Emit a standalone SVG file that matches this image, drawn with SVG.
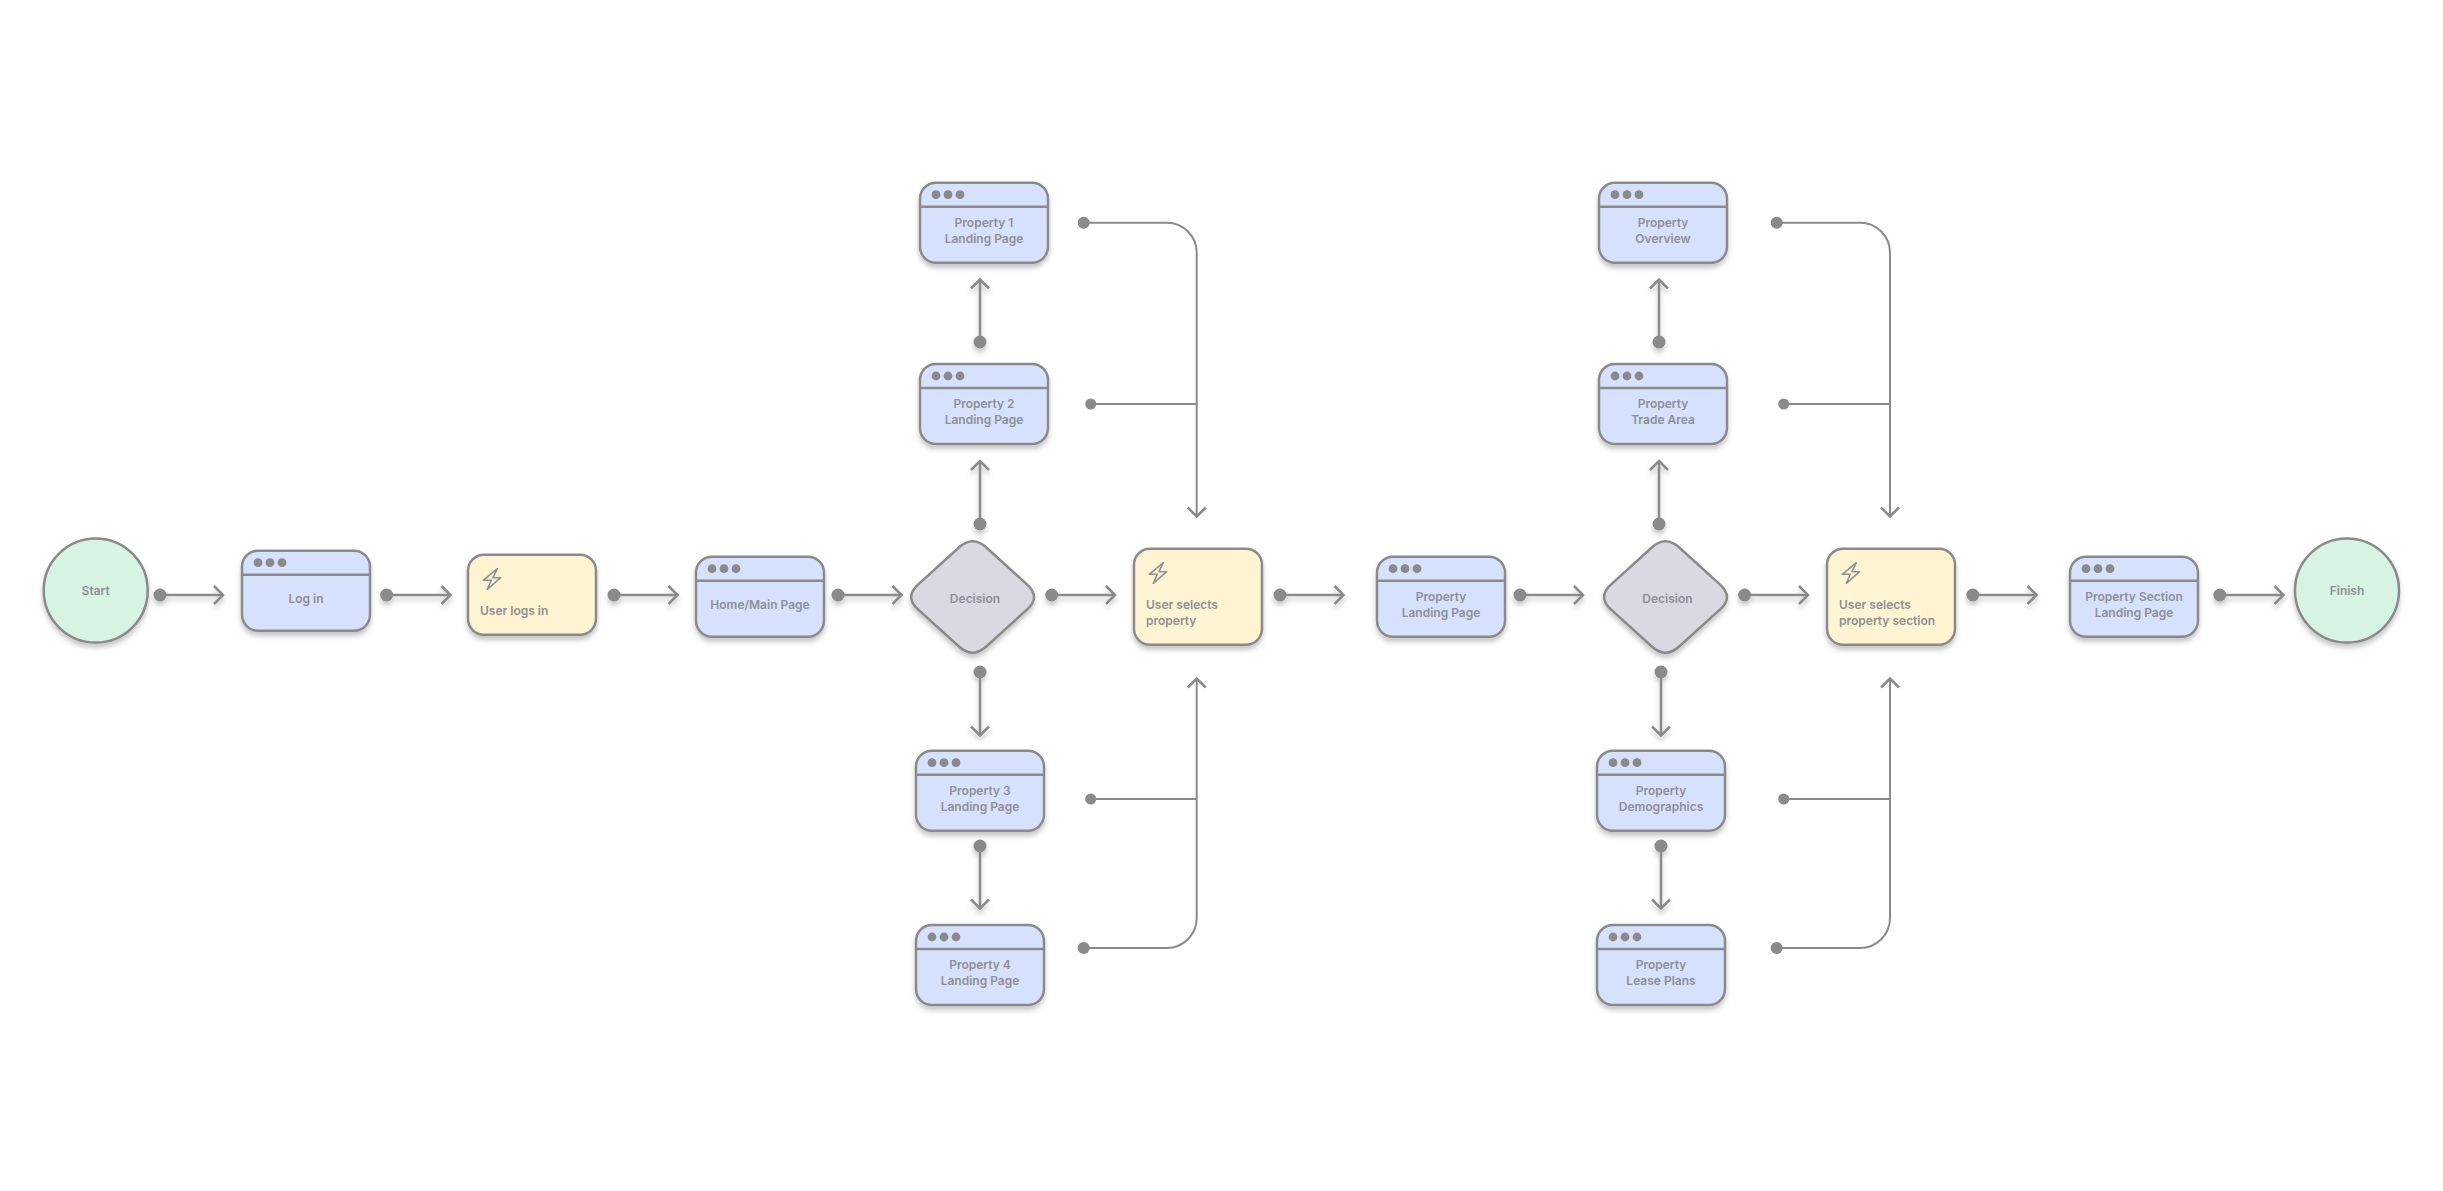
<svg xmlns="http://www.w3.org/2000/svg" width="2443" height="1191" viewBox="0 0 2443 1191">
<style>
text{font-family:"Inter","Liberation Sans",sans-serif;font-size:12px;font-weight:600;fill:#8f8f96}
.c{text-anchor:middle}
.shape{stroke:#8a8a8a;stroke-width:2.5}
.browser{fill:#d6e2fd}
.action{fill:#fff4d2}
.term{fill:#d6f3e4}
.dec{fill:#d8d9e1}
.hdr{stroke:#8a8a8a;stroke-width:2.5}
.d{fill:#8a8a8a}
.bolt{fill:none;stroke:#8f8f96;stroke-width:1.6;stroke-linejoin:round}
.short path{fill:none;stroke:#8a8a8a;stroke-width:2.5;marker-end:url(#ah)}
.long path{fill:none;stroke:#8a8a8a;stroke-width:2}
.long path.a{marker-end:url(#ah)}
.node{filter:url(#sh)}
</style>
<defs>
<filter id="sh" filterUnits="userSpaceOnUse" x="-300" y="-300" width="3100" height="1800"><feDropShadow dx="0" dy="4" stdDeviation="2.5" flood-color="#000" flood-opacity="0.22"/></filter>
<marker id="ah" markerUnits="userSpaceOnUse" markerWidth="24" markerHeight="24" viewBox="0 0 24 24" refX="13" refY="12" orient="auto"><path d="M4 3L13 12L4 21" fill="none" stroke="#8a8a8a" stroke-width="2.5"/></marker>
<g id="win"><rect class="shape browser" width="128" height="80" rx="16"/><line class="hdr" x1="0" y1="24" x2="128" y2="24"/><circle class="d" cx="16" cy="12" r="4.4"/><circle class="d" cx="28" cy="12" r="4.4"/><circle class="d" cx="40" cy="12" r="4.4"/></g>
<polygon id="zap" class="bolt" points="29.3,14 15.3,25.6 23.3,25.6 19.3,34.6 32.7,23 25,23"/>
<path id="dia" class="shape dec" d="M-13.7-49.5Q0-61.9 13.7-49.5L54.6-12.4Q68.3 0 54.6 12.4L13.7 49.5Q0 61.9-13.7 49.5L-54.6 12.4Q-68.3 0-54.6-12.4Z"/>
</defs>

<g id="connectors">
<g class="short" filter="url(#sh)">
<path d="M160 595H223"/><circle class="d" cx="160" cy="595" r="6.5"/>
<path d="M386.6 595H450.5"/><circle class="d" cx="386.6" cy="595" r="6.5"/>
<path d="M614 595H677.5"/><circle class="d" cx="614" cy="595" r="6.5"/>
<path d="M838 595H901.5"/><circle class="d" cx="838" cy="595" r="6.5"/>
<path d="M1051.7 595H1115"/><circle class="d" cx="1051.7" cy="595" r="6.5"/>
<path d="M1280 595H1343.5"/><circle class="d" cx="1280" cy="595" r="6.5"/>
<path d="M1520 595H1583"/><circle class="d" cx="1520" cy="595" r="6.5"/>
<path d="M1744.6 595H1808"/><circle class="d" cx="1744.6" cy="595" r="6.5"/>
<path d="M1972.8 595H2036.5"/><circle class="d" cx="1972.8" cy="595" r="6.5"/>
<path d="M2219.8 595H2283.5"/><circle class="d" cx="2219.8" cy="595" r="6.5"/>
<path d="M980 342V279.5"/><circle class="d" cx="980" cy="342" r="6.5"/>
<path d="M980 524V461"/><circle class="d" cx="980" cy="524" r="6.5"/>
<path d="M980 672V735.5"/><circle class="d" cx="980" cy="672" r="6.5"/>
<path d="M980 846V908.5"/><circle class="d" cx="980" cy="846" r="6.5"/>
<path d="M1659 342V279.5"/><circle class="d" cx="1659" cy="342" r="6.5"/>
<path d="M1659 524V461"/><circle class="d" cx="1659" cy="524" r="6.5"/>
<path d="M1661 672V735.5"/><circle class="d" cx="1661" cy="672" r="6.5"/>
<path d="M1661 846V908.5"/><circle class="d" cx="1661" cy="846" r="6.5"/>
</g>
<g class="long">
<path class="a" d="M1083.7 222.7H1166.7A30 30 0 0 1 1196.7 252.7V516.5"/><circle class="d" cx="1083.7" cy="222.7" r="6"/>
<path d="M1090.7 404H1196.7"/><circle class="d" cx="1090.7" cy="404" r="5.5"/>
<path d="M1090.7 799H1196.7"/><circle class="d" cx="1090.7" cy="799" r="5.5"/>
<path class="a" d="M1083.7 948H1166.7A30 30 0 0 0 1196.7 918V678.5"/><circle class="d" cx="1083.7" cy="948" r="6"/>
<path class="a" d="M1776.7 222.7H1860A30 30 0 0 1 1890 252.7V516.5"/><circle class="d" cx="1776.7" cy="222.7" r="6"/>
<path d="M1783.7 404H1890"/><circle class="d" cx="1783.7" cy="404" r="5.5"/>
<path d="M1783.7 799H1890"/><circle class="d" cx="1783.7" cy="799" r="5.5"/>
<path class="a" d="M1776.7 948H1860A30 30 0 0 0 1890 918V678.5"/><circle class="d" cx="1776.7" cy="948" r="6"/>
</g>
</g>

<g id="start"><circle class="shape term node" cx="95.7" cy="590.5" r="52"/><text class="c" x="95.7" y="595">Start</text></g>
<g id="login" transform="translate(242 550.7)"><use href="#win" class="node"/><text class="c" x="64" y="52.6">Log in</text></g>
<g id="user-logs-in" transform="translate(468 554.7)"><rect class="shape action node" width="128" height="80" rx="16"/><use href="#zap"/><text x="12" y="60.3">User logs in</text></g>
<g id="home" transform="translate(696 556.7)"><use href="#win" class="node"/><text class="c" x="64" y="52.6">Home/Main Page</text></g>
<g id="decision-1" transform="translate(972.6 597)"><use href="#dia" class="node"/><text class="c" x="2.4" y="6.2">Decision</text></g>
<g id="user-selects-property" transform="translate(1134 548.7)"><rect class="shape action node" width="128" height="96" rx="16"/><use href="#zap"/><text x="12" y="60.6">User selects</text><text x="12" y="76.6">property</text></g>
<g id="property-1" transform="translate(920 182.7)"><use href="#win" class="node"/><text class="c" x="64" y="44.2">Property 1</text><text class="c" x="64" y="60.2">Landing Page</text></g>
<g id="property-2" transform="translate(920 364)"><use href="#win" class="node"/><text class="c" x="64" y="44">Property 2</text><text class="c" x="64" y="60">Landing Page</text></g>
<g id="property-3" transform="translate(916 750.7)"><use href="#win" class="node"/><text class="c" x="64" y="44.2">Property 3</text><text class="c" x="64" y="60.2">Landing Page</text></g>
<g id="property-4" transform="translate(916 925)"><use href="#win" class="node"/><text class="c" x="64" y="44">Property 4</text><text class="c" x="64" y="60">Landing Page</text></g>
<g id="property-landing" transform="translate(1377 556.7)"><use href="#win" class="node"/><text class="c" x="64" y="44.2">Property</text><text class="c" x="64" y="60.2">Landing Page</text></g>
<g id="decision-2" transform="translate(1665.5 597)"><use href="#dia" class="node"/><text class="c" x="2" y="6.2">Decision</text></g>
<g id="property-overview" transform="translate(1599 182.7)"><use href="#win" class="node"/><text class="c" x="64" y="44.2">Property</text><text class="c" x="64" y="60.2">Overview</text></g>
<g id="property-trade" transform="translate(1599 364)"><use href="#win" class="node"/><text class="c" x="64" y="44">Property</text><text class="c" x="64" y="60">Trade Area</text></g>
<g id="property-demo" transform="translate(1597 750.7)"><use href="#win" class="node"/><text class="c" x="64" y="44.2">Property</text><text class="c" x="64" y="60.2">Demographics</text></g>
<g id="property-lease" transform="translate(1597 925)"><use href="#win" class="node"/><text class="c" x="64" y="44">Property</text><text class="c" x="64" y="60">Lease Plans</text></g>
<g id="user-selects-section" transform="translate(1827 548.7)"><rect class="shape action node" width="128" height="96" rx="16"/><use href="#zap"/><text x="12" y="60.6">User selects</text><text x="12" y="76.6">property section</text></g>
<g id="property-section" transform="translate(2070 556.7)"><use href="#win" class="node"/><text class="c" x="64" y="44.2">Property Section</text><text class="c" x="64" y="60.2">Landing Page</text></g>
<g id="finish"><circle class="shape term node" cx="2347" cy="590.5" r="52"/><text class="c" x="2347" y="595">Finish</text></g>
</svg>
